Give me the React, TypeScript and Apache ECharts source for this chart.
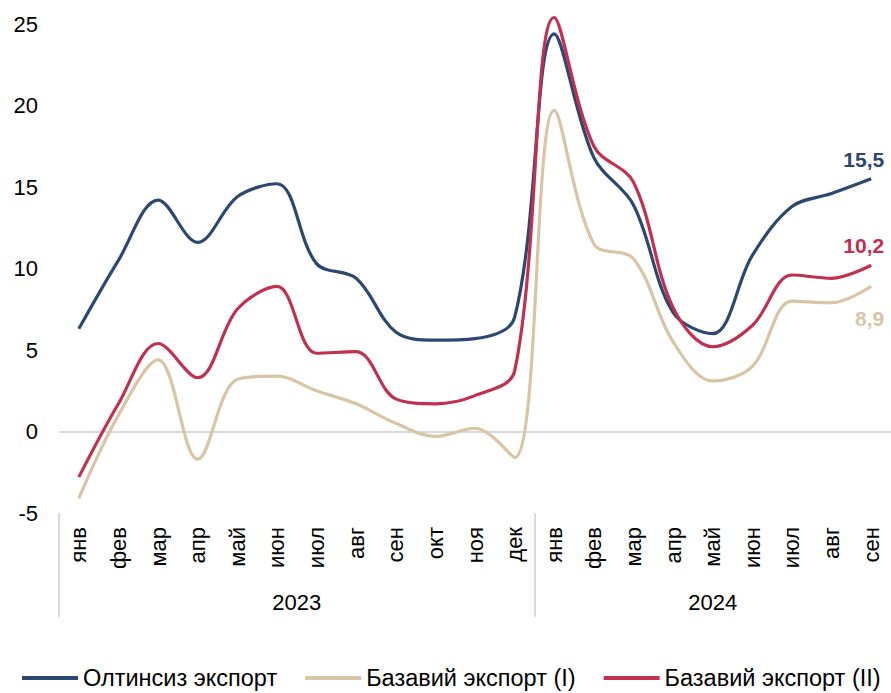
import React, { useEffect, useRef } from "react";
import * as echarts from "echarts";

const months = [
  "янв", "фев", "мар", "апр", "май", "июн", "июл", "авг", "сен", "окт", "ноя", "дек",
  "янв", "фев", "мар", "апр", "май", "июн", "июл", "авг", "сен",
];
const years = ["2023", "2024"];
const yearStarts = [0, 12];
const yearCenters = [6, 16.5];

const seriesNames = ["Олтинсиз экспорт", "Базавий экспорт (I)", "Базавий экспорт (II)"];
const goldFree = [6.3, 10.5, 14.2, 11.6, 14.4, 15.2, 10.3, 9.4, 6.1, 5.6, 5.7, 7.0, 24.4, 16.8, 13.9, 7.3, 6.0, 10.8, 13.8, 14.6, 15.5];
const base1 = [-4.1, 1.0, 4.4, -1.7, 3.2, 3.4, 2.5, 1.7, 0.5, -0.3, 0.2, -1.6, 19.7, 11.5, 10.6, 5.5, 3.1, 4.0, 8.0, 7.9, 8.9];
const base2 = [-2.8, 1.7, 5.4, 3.3, 7.5, 8.9, 4.8, 4.9, 2.0, 1.7, 2.2, 3.7, 25.4, 17.5, 15.3, 7.6, 5.2, 6.5, 9.6, 9.4, 10.2];
const colors = ["#2c4771", "#d9c5a5", "#c2304f"];
const endOffsets: [number, number][] = [[13, -19], [13, 32], [13, -20]];

const FONT = "'Liberation Sans', Arial, sans-serif";

export default function App() {
  const ref = useRef<HTMLDivElement>(null);
  useEffect(() => {
    document.body.style.margin = "0";
    if (!ref.current) return;
    const chart = echarts.init(ref.current, null, { renderer: "svg" });
    const dataSets = [goldFree, base1, base2];
    const fmt = (v: number) => v.toFixed(1).replace(".", ",");
    chart.setOption({
      animation: false,
      textStyle: { fontFamily: FONT },
      grid: { left: 59, top: 24, width: 835, height: 489, containLabel: false },
      legend: {
        top: 666,
        left: 22,
        padding: 0,
        itemWidth: 56,
        itemHeight: 4,
        itemGap: 28,
        icon: "rect",
        textStyle: { fontSize: 23.5, color: "#000", fontFamily: FONT },
        data: seriesNames,
      },
      xAxis: [
        {
          type: "category",
          data: months,
          boundaryGap: true,
          axisLine: { show: false },
          axisTick: { show: false },
          axisLabel: { rotate: 90, fontSize: 22, color: "#000", margin: 14, interval: 0, fontFamily: FONT },
        },
        {
          type: "value",
          min: 0,
          max: months.length,
          position: "bottom",
          axisLine: { show: false },
          splitLine: { show: false },
          axisTick: {
            show: true,
            customValues: yearStarts,
            length: 104,
            lineStyle: { color: "#d9d9d9", width: 2 },
          },
          axisLabel: {
            show: true,
            customValues: yearCenters,
            formatter: (v: number) => (v < yearStarts[1] ? years[0] : years[1]),
            fontSize: 22,
            color: "#000",
            margin: 78,
            fontFamily: FONT,
          },
        },
      ],
      yAxis: {
        type: "value",
        min: -5,
        max: 25,
        interval: 5,
        axisLine: { show: false },
        axisTick: { show: false },
        splitLine: { show: false },
        axisLabel: { fontSize: 22, color: "#000", margin: 21, fontFamily: FONT },
      },
      series: dataSets.map((d, i) => ({
        name: seriesNames[i],
        type: "line",
        data: d,
        smooth: 0.35,
        clip: false,
        showSymbol: false,
        symbol: "none",
        color: colors[i],
        lineStyle: { color: colors[i], width: 3.2 },
        endLabel: {
          show: true,
          formatter: (p: any) => fmt(p.value),
          align: "right",
          distance: 0,
          offset: endOffsets[i],
          fontSize: 21,
          fontWeight: "bold",
          color: colors[i],
          fontFamily: FONT,
        },
        markLine: i === 0
          ? {
              silent: true,
              symbol: "none",
              label: { show: false },
              lineStyle: { color: "#d9d9d9", width: 2, type: "solid" },
              data: [{ yAxis: 0 }],
              z: 0,
            }
          : undefined,
        z: 2 + i,
      })),
    });
    return () => chart.dispose();
  }, []);
  return <div ref={ref} style={{ width: 891, height: 693 }} />;
}
